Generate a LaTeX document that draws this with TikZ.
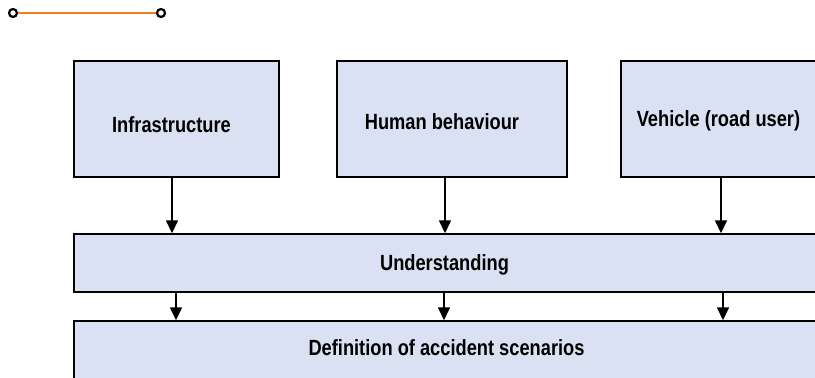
\documentclass[tikz,border=0pt]{standalone}
\usepackage{fontspec}
\setmainfont[FakeStretch=0.83]{Liberation Sans}
\usepackage{tikz}
\usetikzlibrary{arrows.meta}

\definecolor{boxfill}{HTML}{D9E1F2}
\definecolor{lineorange}{HTML}{F07D1E}

\begin{document}
\begin{tikzpicture}[x=0.5pt,y=-0.5pt,
    box/.style={draw=black, line width=0.7pt, fill=boxfill, inner sep=0pt},
    lbl/.style={font=\fontsize{11}{13}\selectfont\bfseries, inner sep=0pt},
    arr/.style={line width=0.75pt, -{Triangle[width=6pt,length=6.5pt]}},
    dot/.style={circle, draw=black, line width=1.1pt, fill=white, inner sep=0pt, minimum size=4pt}]
    \useasboundingbox (0,0) rectangle (815,378);

    % draw top line
    \node[dot] (l) at (13,13) {};
    \node[dot] (r) at (161,13) {};
    \draw[lineorange, line width=1.3pt] (l) -- (r);

    % draw boxes
    \node[box, minimum width=102.5pt, minimum height=58pt,
          label={[lbl,xshift=-2.5pt,yshift=-2.75pt]center:Infrastructure}] (infra) at (176.5,119) {};
    \node[box, minimum width=115pt, minimum height=58pt,
          label={[lbl,xshift=-5pt,yshift=-1.25pt]center:Human behaviour}] (human) at (452,119) {};
    \node[box, minimum width=102pt, minimum height=58pt,
          label={[lbl,xshift=-2.25pt,yshift=-1pt]center:Vehicle (road user)}] (vehicle) at (723,119) {};
    \node[box, minimum width=372pt, minimum height=29pt,
          label={[lbl,xshift=-0.75pt,yshift=-0.9pt]center:Understanding}] (under) at (446,263) {};
    \node[box, minimum width=372pt, minimum height=30pt,
          label={[lbl,xshift=0.25pt,yshift=1.5pt]center:Definition of accident scenarios}] (define) at (446,351) {};

    % draw arrows
    \draw[arr] ([xshift=-2.25pt]infra.south) -- ([xshift=-2.25pt]infra.south |- under.north);
    \draw[arr] ([xshift=-3.5pt]human.south) -- ([xshift=-3.5pt]human.south |- under.north);
    \draw[arr] ([xshift=-1pt]vehicle.south) -- ([xshift=-1pt]vehicle.south |- under.north);
    \draw[arr] ([xshift=-135pt]under.south) -- ([xshift=-135pt]under.south |- define.north);
    \draw[arr] ([xshift=-1pt]under.south) -- ([xshift=-1pt]under.south |- define.north);
    \draw[arr] ([xshift=138.5pt]under.south) -- ([xshift=138.5pt]under.south |- define.north);
\end{tikzpicture}
\end{document}
